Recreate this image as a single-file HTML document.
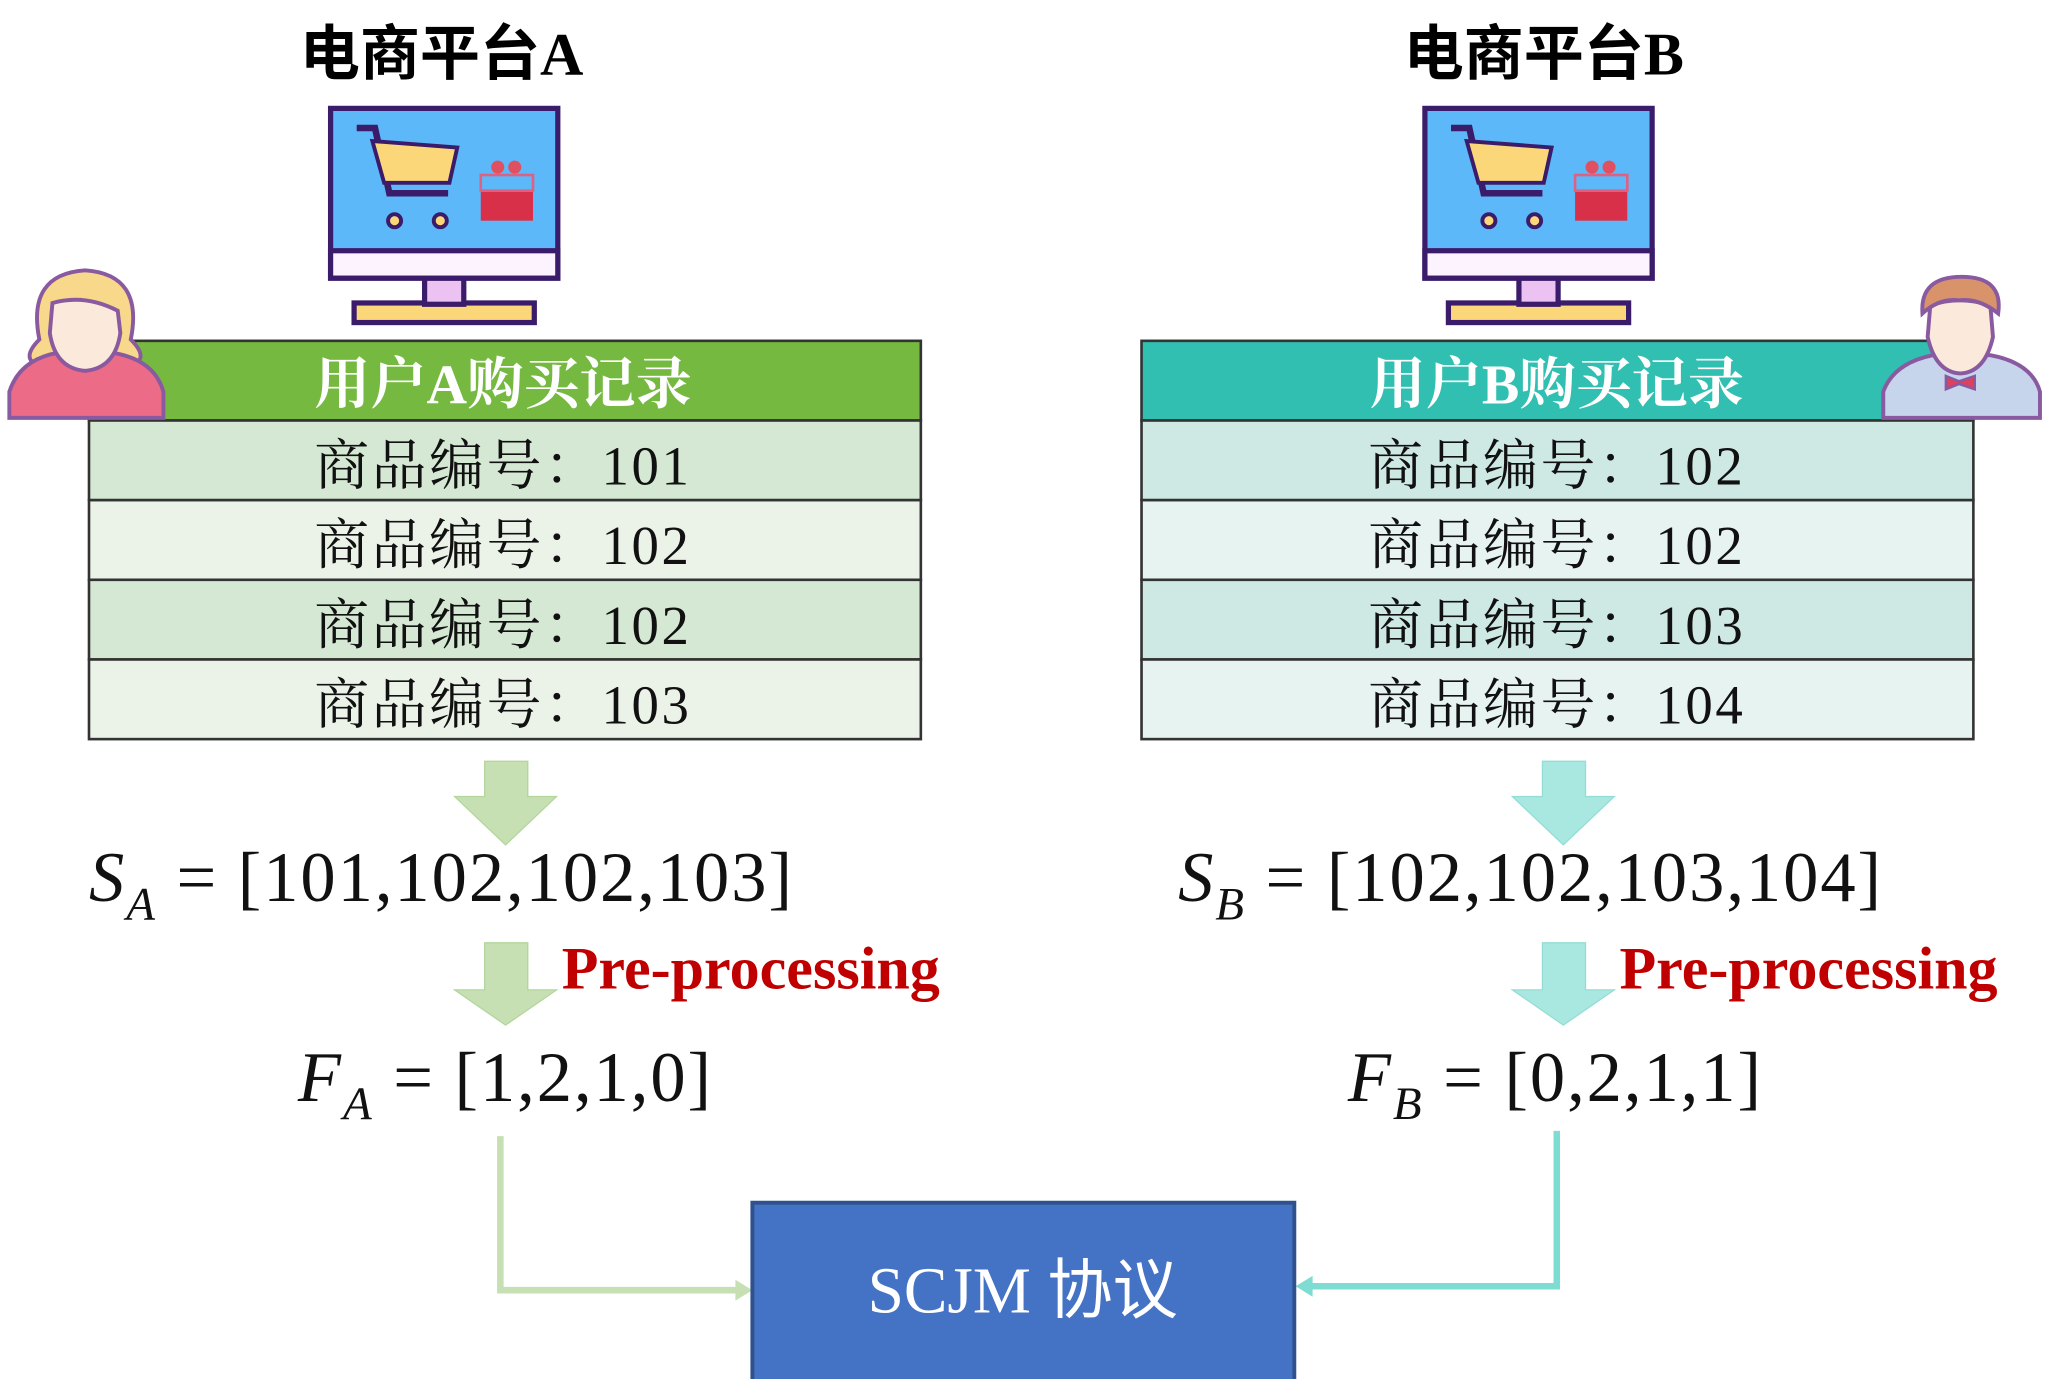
<!DOCTYPE html>
<html><head><meta charset="utf-8"><style>
html,body{margin:0;padding:0;background:#fff;}
svg{display:block;}
.cn{font-family:"Liberation Serif","Noto Serif CJK SC","Noto Sans CJK SC",serif;}
</style></head><body>
<svg width="2048" height="1379" viewBox="0 0 1568 1056" xmlns="http://www.w3.org/2000/svg">
<rect width="1568" height="1056" fill="#fff"/>
<text x="338" y="57" text-anchor="middle" font-size="46" font-weight="bold" font-family="'Liberation Serif','Noto Sans CJK SC',serif">电商平台A</text>
<text x="1182" y="57" text-anchor="middle" font-size="46" font-weight="bold" font-family="'Liberation Serif','Noto Sans CJK SC',serif">电商平台B</text>

<g id="monA" stroke="#3b1c6b" stroke-width="4">
 <rect x="271" y="232" width="138" height="15" fill="#fbd77a"/>
 <rect x="325" y="212" width="30" height="21" fill="#ebc2f2"/>
 <rect x="253" y="83" width="174" height="130" fill="#5cb8f8"/>
 <rect x="253" y="192" width="174" height="21" fill="#fdf3ff"/>
</g>
<g fill="#fbd77a" stroke="#3b1c6b" stroke-width="3">
 <path d="M273 98 L287 98 L298 148 L343 148" fill="none" stroke-width="5"/>
 <path d="M285 108 L350 113 L344 140 L294 140 Z"/>
 <circle cx="302" cy="169" r="5"/><circle cx="337" cy="169" r="5"/>
</g>
<g><rect x="368" y="147" width="40" height="22" fill="#d9304a"/><rect x="368" y="134" width="40" height="12" fill="none" stroke="#e06080" stroke-width="2"/><circle cx="381" cy="128" r="5" fill="#e05060"/><circle cx="394" cy="128" r="5" fill="#e05060"/></g>
<use href="#monA" x="838"/>
<g fill="#fbd77a" stroke="#3b1c6b" stroke-width="3" transform="translate(838,0)">
 <path d="M273 98 L287 98 L298 148 L343 148" fill="none" stroke-width="5"/>
 <path d="M285 108 L350 113 L344 140 L294 140 Z"/>
 <circle cx="302" cy="169" r="5"/><circle cx="337" cy="169" r="5"/>
</g>
<g transform="translate(838,0)"><rect x="368" y="147" width="40" height="22" fill="#d9304a"/><rect x="368" y="134" width="40" height="12" fill="none" stroke="#e06080" stroke-width="2"/><circle cx="381" cy="128" r="5" fill="#e05060"/><circle cx="394" cy="128" r="5" fill="#e05060"/></g>

<g stroke="#333" stroke-width="2">
 <rect x="68" y="261" width="637" height="61" fill="#76b940"/>
 <rect x="68" y="322" width="637" height="61" fill="#d5e8d3"/>
 <rect x="68" y="383" width="637" height="61" fill="#ebf3e8"/>
 <rect x="68" y="444" width="637" height="61" fill="#d5e8d3"/>
 <rect x="68" y="505" width="637" height="61" fill="#ebf3e8"/>
</g>
<g stroke="#333" stroke-width="2">
 <rect x="874" y="261" width="637" height="61" fill="#31bfb1"/>
 <rect x="874" y="322" width="637" height="61" fill="#cee8e4"/>
 <rect x="874" y="383" width="637" height="61" fill="#e7f3f1"/>
 <rect x="874" y="444" width="637" height="61" fill="#cee8e4"/>
 <rect x="874" y="505" width="637" height="61" fill="#e7f3f1"/>
</g>
<g class="cn" font-size="43" fill="#fff" font-weight="bold" text-anchor="middle">
 <text x="385" y="309">用户A购买记录</text>
 <text x="1192" y="309">用户B购买记录</text>
</g>
<g class="cn" font-size="42" fill="#111" text-anchor="middle" letter-spacing="2">
 <text x="385" y="371">商品编号：101</text>
 <text x="385" y="432">商品编号：102</text>
 <text x="385" y="493">商品编号：102</text>
 <text x="385" y="554">商品编号：103</text>
 <text x="1192" y="371">商品编号：102</text>
 <text x="1192" y="432">商品编号：102</text>
 <text x="1192" y="493">商品编号：103</text>
 <text x="1192" y="554">商品编号：104</text>
</g>

<g stroke="#8a5aa0" stroke-width="3">
 <path d="M30 260 Q20 210 65 207 Q110 210 100 260 Q115 275 100 280 L30 280 Q15 275 30 260Z" fill="#f8d88a"/>
 <path d="M7 320 L7 300 Q15 275 45 270 L85 270 Q118 275 125 300 L125 320 Z" fill="#ec6b86"/>
 <path d="M40 232 Q65 225 90 238 L92 255 Q88 282 65 284 Q42 282 38 255 Z" fill="#fbeadb"/>
</g>
<g stroke="#8a5aa0" stroke-width="3">
 <path d="M1442 320 L1442 300 Q1450 278 1480 272 L1524 272 Q1556 278 1562 300 L1562 320 Z" fill="#c6d4ec"/>
 <path d="M1478 234 Q1500 226 1524 234 L1526 258 Q1520 285 1501 286 Q1482 285 1476 258 Z" fill="#fbeadb"/>
 <path d="M1472 240 Q1470 212 1502 212 Q1534 212 1530 240 Q1515 228 1500 230 Q1485 228 1472 240Z" fill="#d9936b"/>
 <path d="M1490 288 L1500 292 L1512 288 L1512 298 L1500 294 L1490 298Z" fill="#e0405a" stroke-width="2"/>
</g>

<g fill="#c6e0b4" stroke="#b3d69c" stroke-width="1">
 <path d="M371 583 H404 V610 H426 L387 647 L348 610 H371Z"/>
 <path d="M371 722 H404 V758 H426 L387 785 L348 758 H371Z"/>
</g>
<g fill="#a9e8e1" stroke="#94ddd4" stroke-width="1">
 <path d="M1181 583 H1214 V610 H1236 L1197 647 L1158 610 H1181Z"/>
 <path d="M1181 722 H1214 V758 H1236 L1197 785 L1158 758 H1181Z"/>
</g>

<g font-family="'Liberation Serif',serif" font-size="54" fill="#111" letter-spacing="1.5">
 <text x="68" y="690"><tspan font-style="italic">S</tspan><tspan font-style="italic" font-size="36" dy="14">A</tspan><tspan dy="-14"> = [101,102,102,103]</tspan></text>
 <text x="902" y="690"><tspan font-style="italic">S</tspan><tspan font-style="italic" font-size="36" dy="14">B</tspan><tspan dy="-14"> = [102,102,103,104]</tspan></text>
 <text x="228" y="843"><tspan font-style="italic">F</tspan><tspan font-style="italic" font-size="36" dy="14">A</tspan><tspan dy="-14"> = [1,2,1,0]</tspan></text>
 <text x="1032" y="843"><tspan font-style="italic">F</tspan><tspan font-style="italic" font-size="36" dy="14">B</tspan><tspan dy="-14">  = [0,2,1,1]</tspan></text>
</g>
<g font-family="'Liberation Serif',serif" font-size="46" font-weight="bold" fill="#c00000">
 <text x="430" y="757">Pre-processing</text>
 <text x="1240" y="757">Pre-processing</text>
</g>

<path d="M383 870 V988 H566" fill="none" stroke="#c6e0b4" stroke-width="5"/>
<path d="M563 980 L576 988 L563 996Z" fill="#c6e0b4"/>
<path d="M1192 866 V985 H1002" fill="none" stroke="#7fdcd2" stroke-width="5"/>
<path d="M1005 977 L992 985 L1005 993Z" fill="#7fdcd2"/>

<rect x="576" y="921" width="415" height="140" fill="#4472c4" stroke="#2f528f" stroke-width="3"/>
<text x="783" y="1005" text-anchor="middle" font-size="50" fill="#fff" font-family="'Liberation Serif','Noto Sans CJK SC',serif">SCJM 协议</text>
</svg>
</body></html>
